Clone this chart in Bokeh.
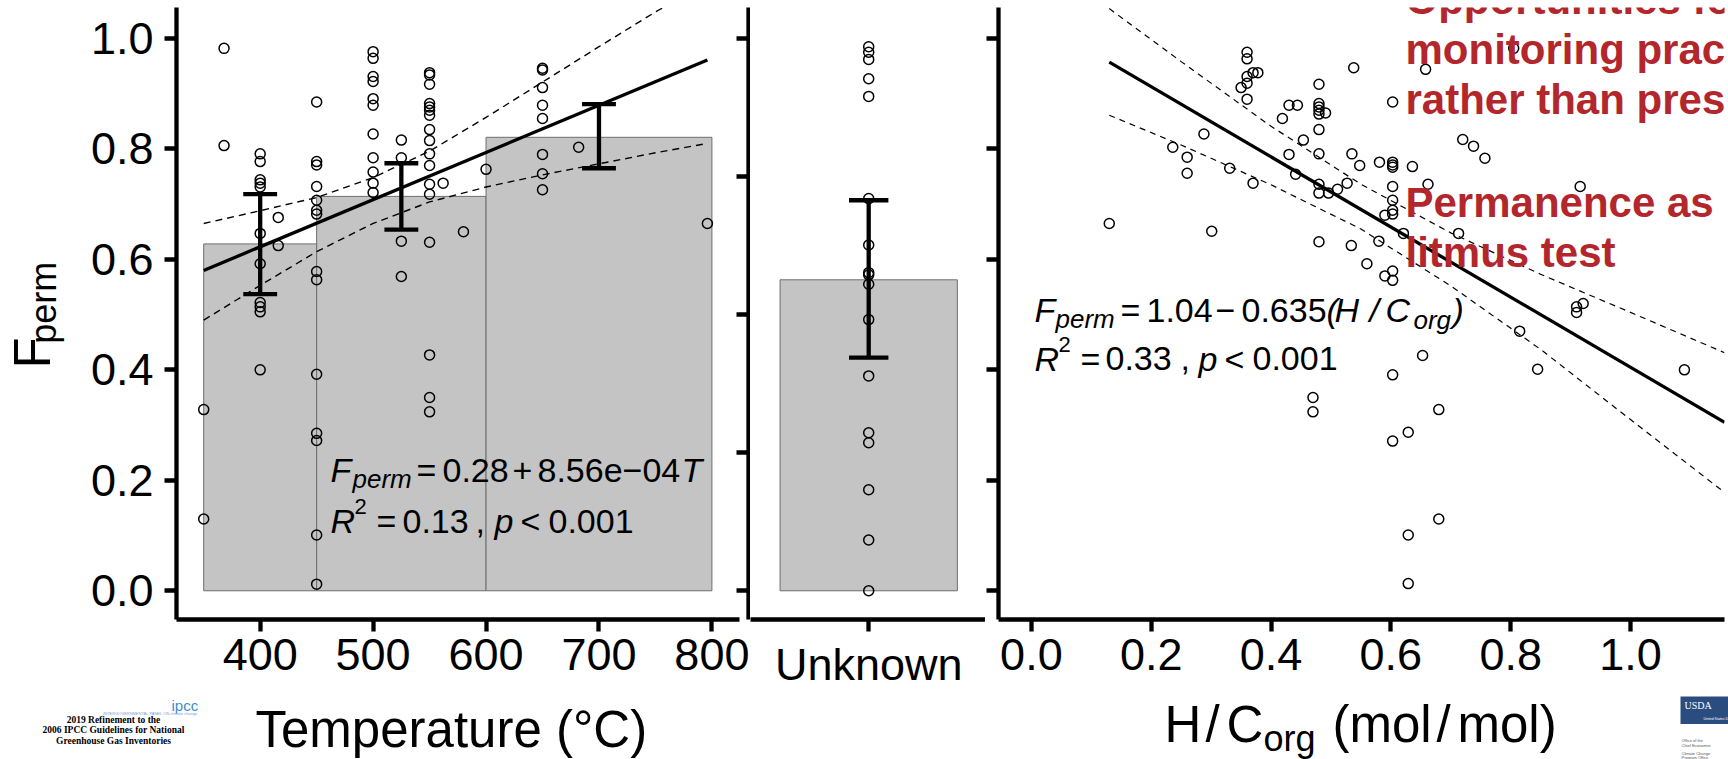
import math
from bokeh.plotting import figure
from bokeh.layouts import row, column
from bokeh.models import Label, FixedTicker, Range1d, LinearAxis
from bokeh.embed import file_html
from bokeh.resources import INLINE

# ------------------------------------------------------------------ data
# Panel 1: pyrolysis temperature
temp_bin_left = [350, 450, 600]
temp_bin_right = [450, 600, 800]
temp_bin_mean = [0.628, 0.714, 0.821]
temp_err_x = [400, 525, 700]
temp_err_low = [0.537, 0.654, 0.765]
temp_err_high = [0.718, 0.774, 0.881]

temp_T = [350, 350,
          368, 368,
          400, 400, 400, 400, 400, 400, 400, 400, 400, 400, 400,
          416, 416,
          450, 450, 450, 450, 450, 450, 450, 450, 450, 450, 450, 450, 450, 450,
          500, 500, 500, 500, 500, 500, 500, 500, 500, 500, 500,
          525, 525, 525, 525,
          550, 550, 550, 550, 550, 550, 550, 550, 550, 550, 550, 550, 550, 550, 550, 550, 550,
          562, 580, 600,
          650, 650, 650, 650, 650, 650, 650, 650,
          682, 796]
temp_F = [0.328, 0.130,
          0.982, 0.806,
          0.791, 0.777, 0.744, 0.738, 0.731, 0.647, 0.592, 0.522, 0.514, 0.505, 0.400,
          0.676, 0.625,
          0.885, 0.777, 0.771, 0.732, 0.707, 0.689, 0.682, 0.578, 0.563, 0.392, 0.285, 0.272, 0.101, 0.012,
          0.976, 0.964, 0.931, 0.922, 0.891, 0.879, 0.827, 0.784, 0.758, 0.738, 0.721,
          0.816, 0.784, 0.633, 0.569,
          0.938, 0.934, 0.917, 0.882, 0.876, 0.870, 0.861, 0.835, 0.815, 0.791, 0.770, 0.736, 0.718, 0.631, 0.427, 0.350, 0.324,
          0.738, 0.650, 0.763,
          0.946, 0.943, 0.911, 0.879, 0.855, 0.790, 0.755, 0.726,
          0.803, 0.665]

fit_T = [350, 796]
fit_T_F = [0.580, 0.961]
band_T = [350, 400, 450, 500, 550, 600, 650, 700, 750, 796]
band_T_upper = [0.665, 0.688, 0.712, 0.748, 0.796, 0.857, 0.921, 0.985, 1.048, 1.100]
band_T_lower = [0.490, 0.553, 0.614, 0.665, 0.704, 0.731, 0.753, 0.773, 0.793, 0.810]

# Panel 2: unknown temperature
unknown_category = ["Unknown"]
unknown_mean = [0.563]
unknown_err_low = [0.422]
unknown_err_high = [0.707]
unknown_F = [0.985, 0.975, 0.962, 0.927, 0.895, 0.710, 0.626, 0.576, 0.572, 0.555,
             0.491, 0.389, 0.286, 0.268, 0.183, 0.092, 0.000]

# Panel 3: H/C org
hc_x = [0.130, 0.236, 0.260, 0.260, 0.288, 0.301, 0.331, 0.350, 0.360, 0.360,
        0.360, 0.360, 0.360, 0.370, 0.378, 0.370, 0.419, 0.430, 0.444, 0.430,
        0.441, 0.454, 0.470, 0.470, 0.480, 0.480, 0.480, 0.480, 0.480, 0.491,
        0.480, 0.480, 0.480, 0.480, 0.480, 0.496, 0.511, 0.527, 0.535, 0.548,
        0.538, 0.534, 0.560, 0.580, 0.581, 0.590, 0.590, 0.603, 0.603, 0.603,
        0.603, 0.603, 0.603, 0.603, 0.603, 0.603, 0.603, 0.603, 0.603, 0.621,
        0.629, 0.629, 0.629, 0.636, 0.653, 0.658, 0.662, 0.680, 0.680, 0.713,
        0.720, 0.738, 0.757, 0.805, 0.815, 0.845, 0.910, 0.910, 0.921, 0.916,
        1.090]
hc_F = [0.665, 0.803, 0.785, 0.756, 0.827, 0.651, 0.765, 0.911, 0.975, 0.963,
        0.931, 0.919, 0.890, 0.938, 0.938, 0.738, 0.855, 0.879, 0.879, 0.790,
        0.754, 0.816, 0.350, 0.324, 0.917, 0.882, 0.876, 0.870, 0.863, 0.865,
        0.835, 0.791, 0.736, 0.720, 0.632, 0.720, 0.727, 0.738, 0.791, 0.770,
        0.947, 0.625, 0.592, 0.633, 0.776, 0.680, 0.570, 0.885, 0.776, 0.771,
        0.767, 0.732, 0.707, 0.689, 0.682, 0.579, 0.562, 0.391, 0.271, 0.647,
        0.287, 0.101, 0.013, 0.768, 0.426, 0.944, 0.736, 0.328, 0.130, 0.647,
        0.817, 0.805, 0.783, 0.982, 0.470, 0.401, 0.514, 0.504, 0.520, 0.732,
        0.400]

fit_hc = [0.130, 1.157]
fit_hc_F = [0.957, 0.305]
band_hc = [0.13, 0.25, 0.40, 0.55, 0.70, 0.85, 1.00, 1.157]
band_hc_upper = [1.054, 0.958, 0.841, 0.736, 0.648, 0.573, 0.504, 0.431]
band_hc_lower = [0.861, 0.807, 0.735, 0.655, 0.552, 0.437, 0.310, 0.178]

# ticks
y_ticks = [0, 0.2, 0.4, 0.6, 0.8, 1]
y_tick_labels = ["0.0", "0.2", "0.4", "0.6", "0.8", "1.0"]
y_ticks_unknown = [0, 0.25, 0.5, 0.75, 1]
temp_ticks = [400, 500, 600, 700, 800]
temp_tick_labels = ["400", "500", "600", "700", "800"]
hc_ticks = [0, 0.2, 0.4, 0.6, 0.8, 1]
hc_tick_labels = ["0.0", "0.2", "0.4", "0.6", "0.8", "1.0"]

# ------------------------------------------------------------------ layout
H = 759           # page height
FRAME_TOP = 7
FRAME_BOTTOM = 619
H_TOP = FRAME_BOTTOM + 77   # height of the row holding the three panels
Y0, Y1 = -0.052, 1.056
FONT = "Liberation Sans"
TICK_FONT = "45px"
LEFT_W = 70
MID = 0.3465      # baseline -> vertical middle of the text box, in em
ROT_SHIFT = 40    # measured drift of rotated labels in the left strip, px

# page-pixel frame geometry: frame left, frame right, x start, x end
GEOM = {
    1: (176, 748, 325.9, 832.4),
    2: (750, 985, 0.4, 1.5929),
    3: (998, 1724, -0.0549, 1.1569),
}


def to_data(k, px, py):
    fl, fr, x0, x1 = GEOM[k]
    x = x0 + (px - fl) / (fr - fl) * (x1 - x0)
    y = Y0 + (FRAME_BOTTOM - py) / (FRAME_BOTTOM - FRAME_TOP) * (Y1 - Y0)
    return x, y


def style_axis(ax):
    ax.axis_line_width = 4.3
    ax.axis_line_color = "black"
    ax.major_tick_line_width = 4.3
    ax.major_tick_line_color = "black"
    ax.major_tick_out = 12
    ax.major_tick_in = 0
    ax.minor_tick_line_color = None
    ax.major_label_text_font = FONT
    ax.major_label_text_font_size = TICK_FONT
    ax.major_label_text_color = "black"


def hide_labels(ax):
    ax.major_label_text_font_size = "1px"
    ax.major_label_text_color = None
    ax.major_label_standoff = 0


def make_fig(k, width, bl, br, y_loc="left"):
    fl, fr, x0, x1 = GEOM[k]
    p = figure(width=width, height=H_TOP, x_range=Range1d(x0, x1), y_range=Range1d(Y0, Y1),
               output_backend="svg", toolbar_location=None, min_border=0,
               y_axis_location=y_loc)
    p.min_border_left = bl
    p.min_border_right = br
    p.min_border_top = FRAME_TOP
    p.min_border_bottom = H_TOP - FRAME_BOTTOM
    p.outline_line_color = None
    p.grid.visible = False
    p.background_fill_color = "white"
    p.border_fill_color = "white"
    for ax in list(p.xaxis) + list(p.yaxis):
        style_axis(ax)
    p.xaxis.major_label_standoff = 7
    return p


def text_fig(width, height, x0, x1, y_top, y_bottom):
    p = figure(width=width, height=height, x_range=Range1d(x0, x1),
               y_range=Range1d(y_bottom, y_top), output_backend="svg",
               toolbar_location=None, min_border=0,
               x_axis_location=None, y_axis_location=None)
    p.outline_line_color = None
    p.grid.visible = False
    p.background_fill_color = "white"
    p.border_fill_color = "white"
    return p


def label(p, px, py, text, size, style="normal", color="black", font=FONT,
          align="left", k=None, **kw):
    """Place horizontal text whose baseline starts at page pixel (px, py)."""
    py = py - MID * size
    if k is not None:
        x, y = to_data(k, px, py)
    else:
        x, y = px, py
    p.add_layout(Label(x=x, y=y, text=text, text_font=font, text_font_size=f"{size}px",
                       text_font_style=style, text_color=color, text_align=align,
                       text_baseline="middle", **kw))


def vlabel(p, bx, y_start, y_end, text, size):
    """Vertical (bottom-to-top) text: baseline at page x = bx, running from y_start up to y_end."""
    p.add_layout(Label(x=bx - MID * size, y=(y_start + y_end) / 2 + ROT_SHIFT, text=text,
                       text_font=FONT, text_font_size=f"{size}px", text_color="black",
                       text_align="center", text_baseline="middle", angle=math.pi / 2))


POINT = dict(marker="circle", size=10, fill_alpha=0, line_color="black", line_width=1.5)
BAR = dict(fill_color="#C4C4C4", line_color="#6E6E6E", line_width=1)
ERR = dict(line_color="black", line_width=4.3, line_cap="butt")

# ------------------------------------------------------------------ left strip (y title)
left = text_fig(LEFT_W, H_TOP, 0, LEFT_W, 0, H_TOP)
vlabel(left, 49.5, 368.3, 337.1, "F", 51)
vlabel(left, 55.0, 336.7, 254.7, "perm", 36)

# ------------------------------------------------------------------ panel 1
p1 = make_fig(1, 750 - LEFT_W, 176 - LEFT_W, 2)
p1.yaxis.ticker = FixedTicker(ticks=y_ticks)
p1.yaxis.major_label_overrides = dict(zip(y_ticks, y_tick_labels))
p1.yaxis.major_label_standoff = 11
p1.xaxis.ticker = FixedTicker(ticks=temp_ticks)
p1.xaxis.major_label_overrides = dict(zip(temp_ticks, temp_tick_labels))
p1.xaxis.bounds = (GEOM[1][2], to_data(1, 739, 0)[0])

# y axis of the "Unknown" panel sits on the right edge of panel 1's frame
ax_unknown = LinearAxis(ticker=FixedTicker(ticks=y_ticks_unknown))
style_axis(ax_unknown)
ax_unknown.major_tick_out = 0
ax_unknown.major_tick_in = 12
hide_labels(ax_unknown)
p1.add_layout(ax_unknown, "right")

p1.quad(left=temp_bin_left, right=temp_bin_right, bottom=[0] * len(temp_bin_mean),
        top=temp_bin_mean, **BAR)
p1.scatter(temp_T, temp_F, **POINT)
cap1 = 15
p1.segment(x0=temp_err_x, y0=temp_err_low, x1=temp_err_x, y1=temp_err_high, **ERR)
p1.segment(x0=[x - cap1 for x in temp_err_x], y0=temp_err_high,
           x1=[x + cap1 for x in temp_err_x], y1=temp_err_high, **ERR)
p1.segment(x0=[x - cap1 for x in temp_err_x], y0=temp_err_low,
           x1=[x + cap1 for x in temp_err_x], y1=temp_err_low, **ERR)
p1.line(fit_T, fit_T_F, line_color="black", line_width=3.3)
p1.line(band_T, band_T_upper, line_color="black", line_width=1.4, line_dash="7 5")
p1.line(band_T, band_T_lower, line_color="black", line_width=1.4, line_dash="7 5")

# regression equation, panel 1
b1, b2 = 481.7, 532.5
label(p1, 330, b1, "F", 34, "italic", k=1)
label(p1, 352, b1 + 5.5, "perm", 26, "italic", k=1)
label(p1, 416, b1, "=", 34, k=1)
label(p1, 442, b1, "0.28", 34, k=1)
label(p1, 512, b1, "+", 34, k=1)
label(p1, 537, b1, "8.56e\u221204", 34, k=1)
label(p1, 681, b1, "T", 34, "italic", k=1)
label(p1, 330, b2, "R", 34, "italic", k=1)
label(p1, 354, b2 - 18.5, "2", 22, k=1)
label(p1, 376, b2, "=", 34, k=1)
label(p1, 402, b2, "0.13", 34, k=1)
label(p1, 475, b2, ",", 34, k=1)
label(p1, 494, b2, "p", 34, "italic", k=1)
label(p1, 520, b2, "<", 34, k=1)
label(p1, 548, b2, "0.001", 34, k=1)

# ------------------------------------------------------------------ panel 2
p2 = make_fig(2, 985 - 750, 0, 0, y_loc=None)
unknown_pos = [i + 1 for i in range(len(unknown_category))]
p2.xaxis.ticker = FixedTicker(ticks=unknown_pos)
p2.xaxis.major_label_overrides = dict(zip(unknown_pos, unknown_category))

p2.vbar(x=unknown_pos, width=0.9, bottom=0, top=unknown_mean, **BAR)
p2.scatter([unknown_pos[0]] * len(unknown_F), unknown_F, **POINT)
cap2 = 0.1
p2.segment(x0=unknown_pos, y0=unknown_err_low, x1=unknown_pos, y1=unknown_err_high, **ERR)
p2.segment(x0=[x - cap2 for x in unknown_pos], y0=unknown_err_high,
           x1=[x + cap2 for x in unknown_pos], y1=unknown_err_high, **ERR)
p2.segment(x0=[x - cap2 for x in unknown_pos], y0=unknown_err_low,
           x1=[x + cap2 for x in unknown_pos], y1=unknown_err_low, **ERR)

# ------------------------------------------------------------------ panel 3
p3 = make_fig(3, 1728 - 985, 13, 4)
p3.yaxis.ticker = FixedTicker(ticks=y_ticks)
hide_labels(p3.yaxis[0])
p3.xaxis.ticker = FixedTicker(ticks=hc_ticks)
p3.xaxis.major_label_overrides = dict(zip(hc_ticks, hc_tick_labels))

p3.scatter(hc_x, hc_F, **POINT)
p3.line(fit_hc, fit_hc_F, line_color="black", line_width=3.3)
p3.line(band_hc, band_hc_upper, line_color="black", line_width=1.2, line_dash="6 5")
p3.line(band_hc, band_hc_lower, line_color="black", line_width=1.2, line_dash="6 5")

# regression equation, panel 3
c1, c2 = 321.7, 370.0
label(p3, 1034, c1, "F", 34, "italic", k=3)
label(p3, 1055, c1 + 5.5, "perm", 26, "italic", k=3)
label(p3, 1120, c1, "=", 34, k=3)
label(p3, 1146, c1, "1.04", 34, k=3)
label(p3, 1215, c1, "\u2212", 34, k=3)
label(p3, 1241, c1, "0.635", 34, k=3)
label(p3, 1326, c1, "(", 34, "italic", k=3)
label(p3, 1334, c1, "H", 34, "italic", k=3)
label(p3, 1369, c1, "/", 34, "italic", k=3)
label(p3, 1385, c1, "C", 34, "italic", k=3)
label(p3, 1413, c1 + 6.5, "org", 26, "italic", k=3)
label(p3, 1452, c1, ")", 34, "italic", k=3)
label(p3, 1034, c2, "R", 34, "italic", k=3)
label(p3, 1058, c2 - 18.5, "2", 22, k=3)
label(p3, 1080, c2, "=", 34, k=3)
label(p3, 1105, c2, "0.33", 34, k=3)
label(p3, 1180, c2, ",", 34, k=3)
label(p3, 1198, c2, "p", 34, "italic", k=3)
label(p3, 1224, c2, "<", 34, k=3)
label(p3, 1252, c2, "0.001", 34, k=3)

# slide overlay text (red)
RED = "#B3262B"
for txt, yy in [("Opportunities fo", 13.3), ("monitoring prac", 63.3),
                ("rather than pres", 113.3), ("Permanence as", 216.7),
                ("litmus test", 266.7)]:
    label(p3, 1405, yy, txt, 42, "bold", color=RED, k=3)

# ------------------------------------------------------------------ bottom strip (titles, logos)
bottom = text_fig(1728, H - H_TOP, 0, 1728, H_TOP, H)
label(bottom, 255, 746.7, "Temperature (°C)", 51)

t3 = 741.7
label(bottom, 1164, t3, "H", 51)
label(bottom, 1205, t3, "/", 51)
label(bottom, 1226, t3, "C", 51)
label(bottom, 1263, t3 + 8.5, "org", 36)
label(bottom, 1332, t3, "(mol", 51)
label(bottom, 1436, t3, "/", 51)
label(bottom, 1457, t3, "mol)", 51)

# IPCC footer
label(bottom, 171, 710, "ipcc", 15, color="#3E8ED0")
label(bottom, 197, 714.5, "INTERGOVERNMENTAL PANEL ON climate change", 4, color="#6FA5D6",
      align="right")
for txt, yy in [("2019 Refinement to the", 722.5),
                ("2006 IPCC Guidelines for National", 733.0),
                ("Greenhouse Gas Inventories", 743.5)]:
    label(bottom, 113, yy, txt, 9.5, "bold", font="Liberation Serif", align="center")

# USDA footer
label(bottom, 1680, 713, "USDA", 10, font="Liberation Serif", color="white",
      background_fill_color="#2B4C7E",
      padding=dict(left=4, right=30, top=4, bottom=13))
label(bottom, 1703, 720, "United States D", 3.5, color="white")
for txt, yy in [("Office of the", 741), ("Chief Economist", 746),
                ("Climate Change", 754), ("Program Office", 758)]:
    label(bottom, 1681, yy, txt, 4, color="#555555")

layout = column(row(left, p1, p2, p3), bottom)
open("out.html", "w").write(file_html(layout, INLINE))
